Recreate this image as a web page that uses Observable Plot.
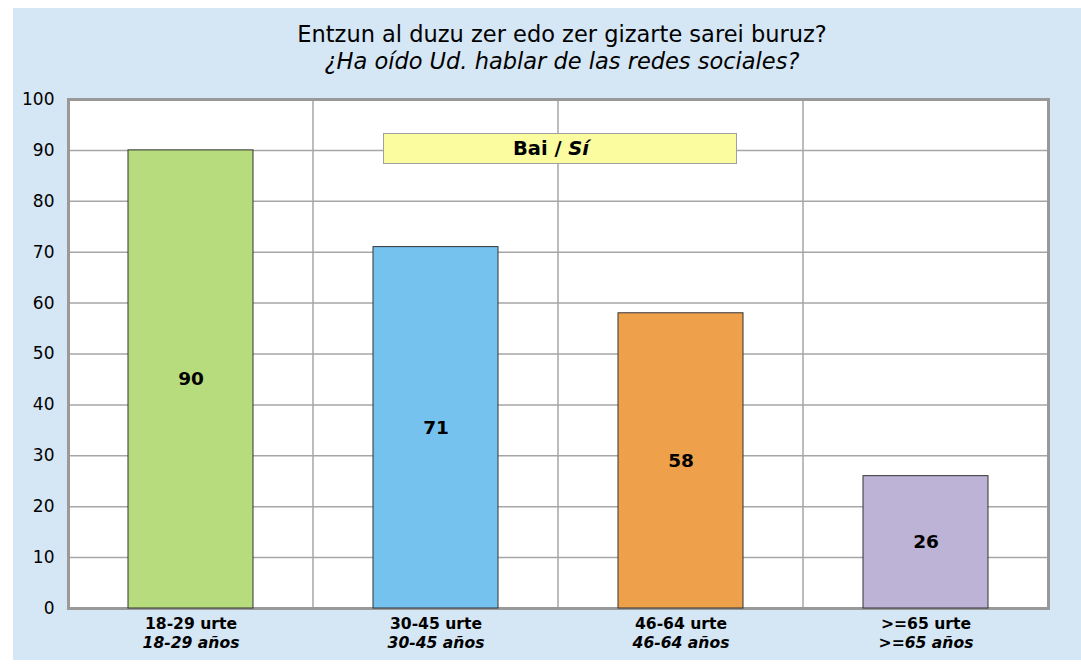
<!DOCTYPE html>
<html>
<head>
<meta charset="utf-8">
<script src="https://cdn.jsdelivr.net/npm/d3@7"></script>
<script src="https://cdn.jsdelivr.net/npm/@observablehq/plot@0.6"></script>
<style>
  body { margin: 0; background: #ffffff; }
  #bg { position: absolute; left: 13px; top: 8px; width: 1068px; height: 652px; background: #d5e6f4; }
  #title { position: absolute; left: 13px; top: 8px; width: 1038px; padding-left: 30px; text-align: center;
           font-family: "DejaVu Sans", sans-serif; font-size: 22.5px; line-height: 27px; padding-top: 13px; color: #000; }
  #title .es { font-style: italic; }
  #chart { position: absolute; left: 13px; top: 75px; }
  #legend { position: absolute; left: 383px; top: 133px; width: 354px; height: 31px; box-sizing: border-box;
            background: #fbfb9f; border: 1px solid #a0a0a0; text-align: center; padding-right: 18px;
            font-family: "DejaVu Sans", sans-serif; font-weight: bold; font-size: 19.5px; line-height: 29px; color: #000; }
</style>
</head>
<body>
<div id="bg"></div>
<div id="title"><div>Entzun al duzu zer edo zer gizarte sarei buruz?</div><div class="es">¿Ha oído Ud. hablar de las redes sociales?</div></div>
<div id="chart"></div>
<div id="legend">Bai / <i>Sí</i></div>
<script>
const categories = ["18-29", "30-45", "46-64", ">=65"];
const labelsEu = ["18-29 urte", "30-45 urte", "46-64 urte", ">=65 urte"];
const labelsEs = ["18-29 años", "30-45 años", "46-64 años", ">=65 años"];
const values = [90, 71, 58, 26];
const colors = ["#b7dc7d", "#76c2ef", "#efa04b", "#bcb3d6"];
const yTicks = [0, 10, 20, 30, 40, 50, 60, 70, 80, 90, 100];

const data = categories.map((c, i) => ({cat: c, value: values[i], eu: labelsEu[i], es: labelsEs[i], color: colors[i]}));

const vGrid = (index, scales, values, dimensions) => {
  const x = scales.x;
  const bwRaw = x.bandwidth;
  const bw = typeof bwRaw === "function" ? bwRaw() : bwRaw;
  const g = d3.create("svg:g");
  for (let i = 1; i < categories.length; i++) {
    const bx = (x(categories[i - 1]) + bw + x(categories[i])) / 2;
    g.append("line")
      .attr("x1", bx).attr("x2", bx)
      .attr("y1", dimensions.marginTop).attr("y2", dimensions.height - dimensions.marginBottom)
      .attr("stroke", "#a6a6a6").attr("stroke-width", 1.5);
  }
  return g.node();
};

const chart = Plot.plot({
  width: 1068,
  height: 585,
  marginLeft: 55,
  marginRight: 33,
  marginTop: 24,
  marginBottom: 52,
  style: {fontFamily: "DejaVu Sans, sans-serif", fontSize: "17px", color: "#000", background: "transparent"},
  x: {domain: categories, paddingInner: 0.49, paddingOuter: 0.245, axis: null},
  y: {domain: [0, 100], ticks: yTicks, axis: null},
  marks: [
    Plot.frame({fill: "#ffffff", stroke: "none"}),
    vGrid,
    Plot.ruleY(yTicks.slice(1, -1), {stroke: "#a6a6a6", strokeWidth: 1.5}),
    Plot.axisY(yTicks, {tickSize: 0, tickPadding: 14, fontSize: 17, fill: "#000", label: null}),
    Plot.frame({stroke: "#999999", strokeWidth: 3}),
    Plot.barY(data, {x: "cat", y: "value", fill: "color", stroke: "#333333", strokeWidth: 1}),
    Plot.text(data, {x: "cat", y: d => d.value / 2, text: d => String(d.value), fontWeight: "bold", fontSize: 18.5, fill: "#000"}),
    Plot.text(data, {x: "cat", frameAnchor: "bottom", dy: 20, text: "eu", fontWeight: "bold", fontSize: 15.6, fill: "#000"}),
    Plot.text(data, {x: "cat", frameAnchor: "bottom", dy: 39, text: "es", fontWeight: "bold", fontStyle: "italic", fontSize: 15.6, fill: "#000"})
  ]
});
document.getElementById("chart").appendChild(chart);
</script>
</body>
</html>
